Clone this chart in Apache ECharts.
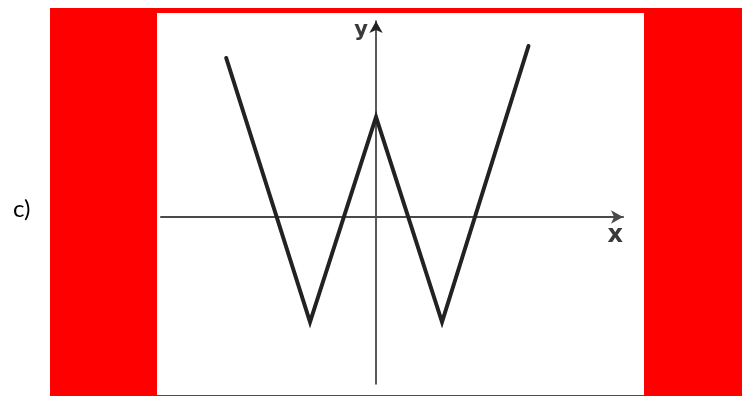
<!DOCTYPE html>
<html>
<head>
<meta charset="utf-8">
<script src="https://cdn.jsdelivr.net/npm/echarts@6/dist/echarts.min.js"></script>
<style>
  html, body { margin: 0; padding: 0; background: #fff; }
  #frame { position: absolute; left: 50px; top: 8px; width: 692px; height: 388px; background: #ff0000; }
  #paper { position: absolute; left: 157px; top: 13px; width: 487px; height: 382px; background: #fff; }
  #chart { position: absolute; left: 0; top: 0; width: 742px; height: 396px; }
</style>
</head>
<body>
<div id="frame"></div>
<div id="paper"></div>
<div id="chart"></div>
<script>
// W-shaped graph (1 x unit ~ 66px, 1 y unit ~ 100px)
const xs = [-2.27, -1, 0, 1, 2.31];
const ys = [1.59, -1.05, 1, -1.05, 1.71];
const axisNames = ["x", "y"];
const panelLabel = "c)";

const points = xs.map((x, i) => [x, ys[i]]);

echarts.init(document.getElementById("chart")).setOption({
  animation: false,
  backgroundColor: "transparent",
  title: {
    text: panelLabel,
    left: 8,
    top: 192,
    textStyle: { fontFamily: "Lato", fontSize: 24, fontWeight: "normal", color: "#000" }
  },
  grid: { left: 161, right: 119, top: 21, bottom: 12 },
  xAxis: {
    type: "value",
    min: -3.258,
    max: 3.742,
    name: axisNames[0],
    nameLocation: "end",
    nameGap: 0,
    nameTextStyle: {
      fontFamily: "DejaVu Sans", fontSize: 24, fontWeight: "bold", color: "#3a3a3a",
      align: "right", verticalAlign: "top", padding: [7, 0, 0, 0]
    },
    axisLine: { onZero: true, symbol: ["none", "arrow"], symbolSize: [10, 12], lineStyle: { color: "#4a4a4a", width: 2 } },
    axisTick: { show: false },
    axisLabel: { show: false },
    splitLine: { show: false }
  },
  yAxis: {
    type: "value",
    min: -1.67,
    max: 1.96,
    name: axisNames[1],
    nameLocation: "end",
    nameGap: 0,
    nameTextStyle: {
      fontFamily: "DejaVu Sans", fontSize: 21, fontWeight: "bold", color: "#3a3a3a",
      align: "right", verticalAlign: "top", padding: [-1, 8, 0, 0]
    },
    axisLine: { onZero: true, symbol: ["none", "arrow"], symbolSize: [10, 12], lineStyle: { color: "#222", width: 1.5 } },
    axisTick: { show: false },
    axisLabel: { show: false },
    splitLine: { show: false }
  },
  series: [{
    type: "line",
    data: points,
    symbol: "none",
    lineStyle: { color: "#222", width: 4, join: "miter", miterLimit: 10, cap: "round" }
  }]
});
</script>
</body>
</html>
